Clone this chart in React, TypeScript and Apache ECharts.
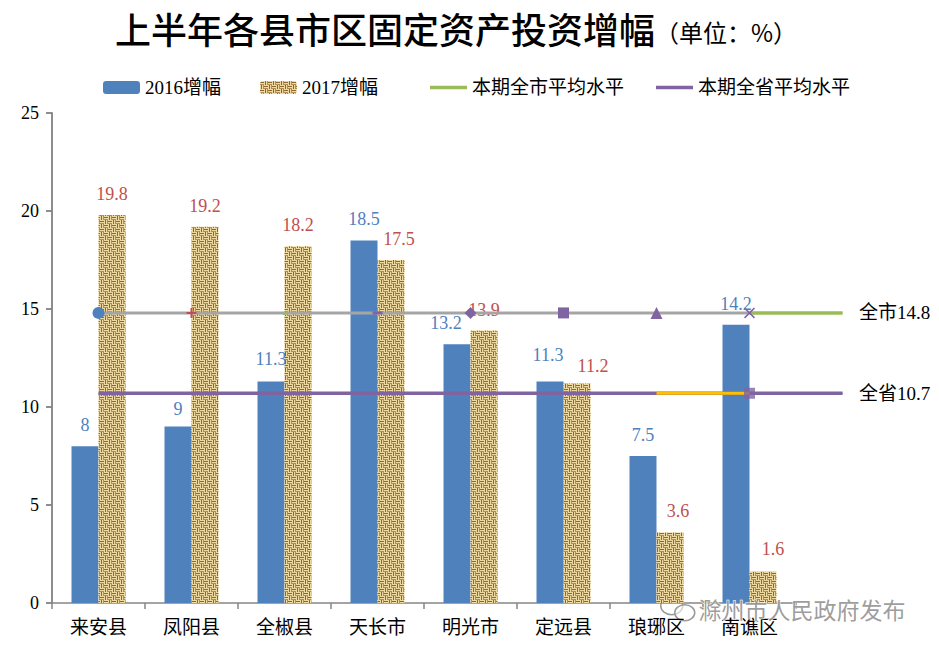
import React, { useEffect, useRef } from "react";
import * as echarts from "echarts";

const categories = ["来安县", "凤阳县", "全椒县", "天长市", "明光市", "定远县", "琅琊区", "南谯区"];
const growth2016 = [8, 9, 11.3, 18.5, 13.2, 11.3, 7.5, 14.2];
const growth2017 = [19.8, 19.2, 18.2, 17.5, 13.9, 11.2, 3.6, 1.6];
const cityAvg = 14.8;
const provinceAvg = 10.7;
const yTicks = { min: 0, max: 25, interval: 5 };
const titleMain = "上半年各县市区固定资产投资增幅";
const titleUnit = "（单位：%）";

const SERIF = "'Liberation Serif', 'Times New Roman', 'Noto Sans CJK SC', serif";
const CJK = "'Noto Sans CJK SC', 'Liberation Serif', sans-serif";

// label nudges (style only)
const offsets2016: number[][] = [[0, 0], [0, 3], [0, -2], [0, 0], [-11, 0], [-2, -6], [0, 0], [0, 0]];
const offsets2017: number[][] = [[0, 0], [0, 0], [0, 0], [8, 0], [0, 0], [16, 4], [8, 0], [10, -2]];

function makeBurlap(): HTMLCanvasElement {
  const c = document.createElement("canvas");
  c.width = 16;
  c.height = 16;
  const ctx = c.getContext("2d")!;
  ctx.fillStyle = "#C8A564";
  ctx.fillRect(0, 0, 16, 16);
  for (let bx = 0; bx < 4; bx++) {
    for (let by = 0; by < 4; by++) {
      const x0 = bx * 4;
      const y0 = by * 4;
      ctx.fillStyle = "#EFD9A2";
      ctx.fillRect(x0, y0, 4, 4);
      ctx.fillStyle = "#8A6631";
      if ((bx + by) % 2 === 0) {
        ctx.fillRect(x0, y0 + 1, 4, 1);
        ctx.fillStyle = "#B48D4E";
        ctx.fillRect(x0, y0 + 3, 4, 1);
      } else {
        ctx.fillRect(x0 + 1, y0, 1, 4);
        ctx.fillStyle = "#B48D4E";
        ctx.fillRect(x0 + 3, y0, 1, 4);
      }
    }
  }
  return c;
}

const PLUS = "path://M4,0H6V4H10V6H6V10H4V6H0V4H4Z";
const CROSS = "path://M1,0L5,4L9,0L10,1L6,5L10,9L9,10L5,6L1,10L0,9L4,5L0,1Z";
const DASH = "path://M0,0H10V3H0Z";
const LINE_ICON = "path://M0,0H40V4H0Z";

export default function App() {
  const ref = useRef<HTMLDivElement>(null);
  useEffect(() => {
    if (!ref.current) return;
    const chart = echarts.init(ref.current, null, { renderer: "svg" });
    const burlap = makeBurlap();
    const pattern: any = { image: burlap, repeat: "repeat", imageWidth: 16, imageHeight: 16 };
    const purple = "#8064A2";
    const n = categories.length;

    const cityMarkers = [
      { symbol: "circle", symbolSize: 12, color: "#4F81BD" },
      { symbol: PLUS, symbolSize: 10, color: "#C0504D" },
      { symbol: "triangle", symbolSize: 4, color: "#9BBB59" },
      { symbol: DASH, symbolSize: [10, 3], color: purple },
      { symbol: "diamond", symbolSize: 12, color: purple },
      { symbol: "rect", symbolSize: 11, color: purple },
      { symbol: "triangle", symbolSize: 12, color: purple },
      { symbol: CROSS, symbolSize: 11, color: purple },
    ];

    const cityData = categories.map((_, i) => ({
      value: [i, cityAvg],
      symbol: cityMarkers[i].symbol,
      symbolSize: cityMarkers[i].symbolSize,
      itemStyle: { color: cityMarkers[i].color },
    }));

    const endPoint = (x: number, y: number, text: string) => ({
      value: [x, y],
      symbol: "circle",
      symbolSize: 1,
      label: {
        show: true,
        position: "right",
        distance: 16,
        formatter: text,
        color: "#000",
        fontSize: 19,
        fontFamily: SERIF,
      },
    });

    const provData: any[] = categories.map((_, i) => ({ value: [i, provinceAvg], symbol: "none" }));
    provData.push(endPoint(n, provinceAvg, "全省" + provinceAvg));

    const barLabel = (color: string) => ({
      show: true,
      position: "top",
      distance: 12,
      color,
      fontSize: 18,
      fontFamily: SERIF,
    });

    const axisGray = "#868686";
    const yLine = { show: true, onZero: false, lineStyle: { color: axisGray, width: 1.5 } };
    const yTick = { show: true, inside: false, length: 6, lineStyle: { color: axisGray, width: 1.5 } };

    const option: any = {
      animation: false,
      backgroundColor: "#fff",
      title: {
        left: 110,
        top: 5,
        text: `{a|${titleMain}}{b|${titleUnit}}`,
        textStyle: {
          rich: {
            a: { fontSize: 36, fontFamily: CJK, color: "#000", fontWeight: 500 },
            b: { fontSize: 24, fontFamily: CJK, color: "#000", fontWeight: "normal", padding: [6, 0, 0, 0] },
          },
        },
      },
      legend: [
        { left: 103, data: ["2016增幅"] },
        { left: 260, data: ["2017增幅"] },
        { left: 430, data: [{ name: "本期全市平均水平", icon: LINE_ICON }] },
        { left: 656, data: [{ name: "本期全省平均水平", icon: LINE_ICON }] },
      ].map((l) => ({
        ...l,
        top: 78,
        padding: 0,
        itemWidth: 37,
        itemHeight: 13,
        itemGap: 10,
        selectedMode: false,
        textStyle: { fontSize: 19, fontFamily: SERIF, color: "#000", padding: [2, 0, 0, 0] },
      })),
      grid: [
        { left: 52, right: 143, top: 113, bottom: 50, containLabel: false },
        { left: 52, right: 50, top: 113, bottom: 50, containLabel: false },
      ],
      xAxis: [
        {
          type: "category",
          gridIndex: 0,
          data: categories,
          axisLine: { show: true, onZero: false, lineStyle: { color: axisGray, width: 1.5 } },
          axisTick: { show: true, length: 6, lineStyle: { color: axisGray, width: 1.5 } },
          axisLabel: { fontSize: 19, fontFamily: CJK, color: "#000", margin: 13 },
        },
        { type: "value", gridIndex: 1, min: -0.5, max: n + 0.5, show: false },
      ],
      yAxis: [
        {
          type: "value",
          gridIndex: 0,
          show: true,
          position: "left",
          min: yTicks.min,
          max: yTicks.max,
          interval: yTicks.interval,
          axisLine: yLine,
          axisTick: yTick,
          axisLabel: { fontSize: 18, fontFamily: SERIF, color: "#000", margin: 13 },
          splitLine: { show: false },
        },
        {
          type: "value",
          gridIndex: 1,
          show: true,
          position: "left",
          min: yTicks.min,
          max: yTicks.max,
          interval: yTicks.interval,
          axisLine: yLine,
          axisTick: yTick,
          axisLabel: { show: false },
          splitLine: { show: false },
        },
      ],
      series: [
        {
          name: "2016增幅",
          type: "bar",
          xAxisIndex: 0,
          yAxisIndex: 0,
          data: growth2016.map((v, i) => ({ value: v, label: { offset: offsets2016[i] } })),
          barWidth: 27,
          barGap: "0%",
          itemStyle: { color: "#4F81BD" },
          label: barLabel("#4F81BD"),
          z: 2,
        },
        {
          name: "2017增幅",
          type: "bar",
          xAxisIndex: 0,
          yAxisIndex: 0,
          data: growth2017.map((v, i) => ({ value: v, label: { offset: offsets2017[i] } })),
          barWidth: 27,
          barGap: "0%",
          itemStyle: { color: pattern },
          label: barLabel("#C0504D"),
          z: 2,
        },
        {
          name: "全市均值",
          type: "line",
          xAxisIndex: 1,
          yAxisIndex: 1,
          data: cityData,
          lineStyle: { color: "#A5A5A5", width: 3 },
          z: 4,
        },
        {
          name: "本期全市平均水平",
          type: "line",
          xAxisIndex: 1,
          yAxisIndex: 1,
          data: [{ value: [n - 1, cityAvg], symbol: "none" }, endPoint(n, cityAvg, "全市" + cityAvg)],
          itemStyle: { color: "#9BBB59" },
          lineStyle: { color: "#9BBB59", width: 3.5 },
          z: 3,
        },
        {
          name: "本期全省平均水平",
          type: "line",
          xAxisIndex: 1,
          yAxisIndex: 1,
          data: provData,
          itemStyle: { color: purple },
          lineStyle: { color: purple, width: 3.5 },
          z: 3,
        },
        {
          name: "全省区段",
          type: "line",
          xAxisIndex: 1,
          yAxisIndex: 1,
          symbol: "none",
          data: [
            [n - 2, provinceAvg],
            [n - 1, provinceAvg],
          ],
          lineStyle: { color: "#FFC000", width: 3 },
          z: 4,
        },
        {
          name: "全省标记",
          type: "scatter",
          xAxisIndex: 1,
          yAxisIndex: 1,
          symbol: "rect",
          symbolSize: 11,
          data: [[n - 1, provinceAvg]],
          itemStyle: { color: purple },
          z: 5,
        },
      ],
      graphic: [
        {
          type: "group",
          left: 660,
          top: 596,
          z: 100,
          children: [
            {
              type: "ellipse",
              shape: { cx: 12, cy: 10, rx: 11, ry: 9 },
              style: { fill: "rgba(255,255,255,0.6)", stroke: "#9a9a9a", lineWidth: 1.5 },
            },
            {
              type: "ellipse",
              shape: { cx: 25, cy: 17, rx: 10, ry: 8 },
              style: { fill: "rgba(255,255,255,0.6)", stroke: "#9a9a9a", lineWidth: 1.5 },
            },
          ],
        },
        {
          type: "text",
          left: 698,
          top: 597,
          z: 100,
          style: {
            text: "滁州市人民政府发布",
            fontSize: 23,
            fontFamily: CJK,
            fill: "rgba(140,140,140,0.85)",
            stroke: "#ffffff",
            lineWidth: 1,
          },
        },
      ],
    };
    chart.setOption(option);
    return () => chart.dispose();
  }, []);
  return <div ref={ref} style={{ width: 939, height: 653, margin: -8 }} />;
}
